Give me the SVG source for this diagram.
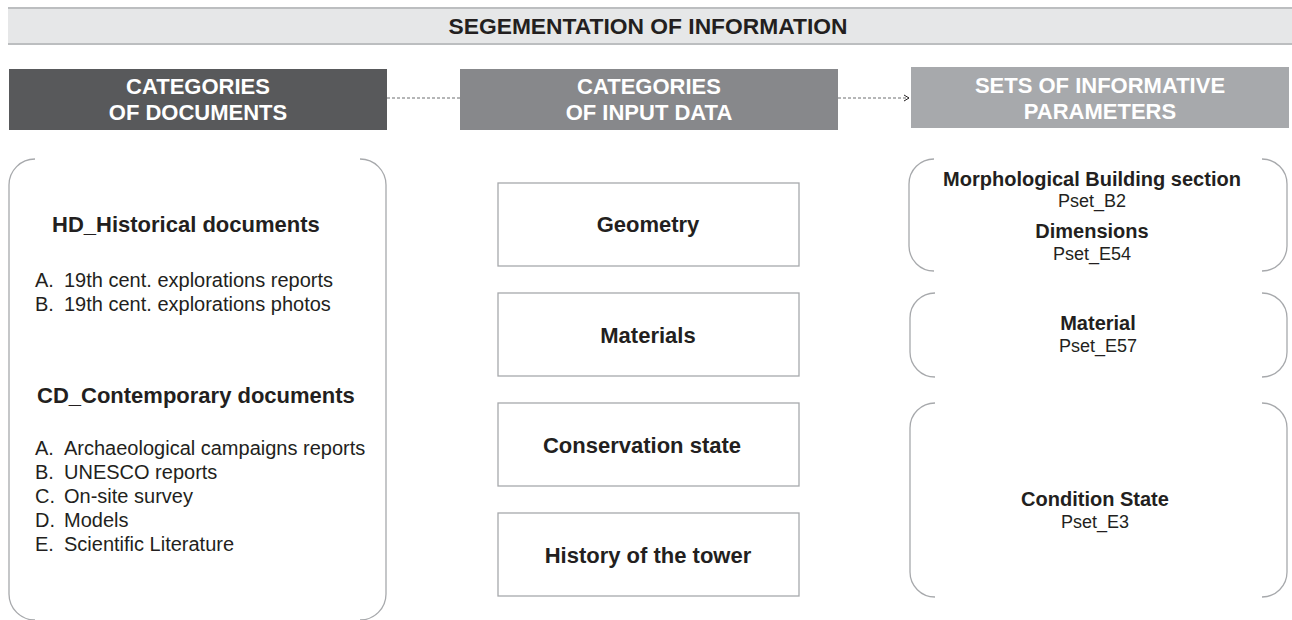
<svg xmlns="http://www.w3.org/2000/svg" width="1292" height="620" viewBox="0 0 1292 620">
  <style>
    text { font-family: "Liberation Sans", Arial, sans-serif; fill: #231f20; }
    .title { font-size: 22.8px; font-weight: bold; text-anchor: middle; }
    .hdr { font-size: 22px; font-weight: bold; fill: #ffffff; text-anchor: middle; }
    .bold { font-size: 22px; font-weight: bold; }
    .pname { font-size: 20px; font-weight: bold; text-anchor: middle; }
    .mid { text-anchor: middle; }
    .reg { font-size: 20px; }
    .pset { font-size: 18px; text-anchor: middle; }
    .bracket { fill: none; stroke: #a7a9ac; stroke-width: 1.3; }
    .cell { fill: #ffffff; stroke: #a7a9ac; stroke-width: 1.3; }
    .link { fill: none; stroke: #6d6e71; stroke-width: 1; stroke-dasharray: 3 2; }
  </style>
  <defs>
    <marker id="open-arrow" markerWidth="8" markerHeight="8" refX="6" refY="4" orient="auto" markerUnits="userSpaceOnUse">
      <path d="M1,1 L6,4 L1,7" fill="none" stroke="#231f20" stroke-width="1"/>
    </marker>
  </defs>

  <!-- title band -->
  <g id="title-band">
    <rect x="8" y="8" width="1284" height="36" fill="#e6e7e8"/>
    <line x1="8" y1="8" x2="1292" y2="8" stroke="#bcbec0" stroke-width="2"/>
    <line x1="8" y1="44" x2="1292" y2="44" stroke="#bcbec0" stroke-width="2"/>
    <text class="title" x="648" y="34">SEGEMENTATION OF INFORMATION</text>
  </g>

  <!-- column headers -->
  <g id="hdr-documents">
    <rect x="9" y="69" width="378" height="61" fill="#58595b"/>
    <text class="hdr" x="198" y="94">CATEGORIES</text>
    <text class="hdr" x="198" y="120">OF DOCUMENTS</text>
  </g>
  <g id="hdr-input">
    <rect x="460" y="69" width="378" height="61" fill="#87888b"/>
    <text class="hdr" x="649" y="94">CATEGORIES</text>
    <text class="hdr" x="649" y="120">OF INPUT DATA</text>
  </g>
  <g id="hdr-params">
    <rect x="911" y="67" width="378" height="61" fill="#a7a9ac"/>
    <text class="hdr" x="1100" y="93">SETS OF INFORMATIVE</text>
    <text class="hdr" x="1100" y="119">PARAMETERS</text>
  </g>

  <!-- connectors between headers -->
  <g id="connectors">
    <line class="link" x1="387" y1="98" x2="460" y2="98"/>
    <line class="link" x1="838" y1="98" x2="909" y2="98" marker-end="url(#open-arrow)"/>
  </g>

  <!-- documents panel -->
  <g id="documents">
    <path class="bracket" d="M35,159 A26,26 0 0 0 9,185 L9,594 A26,26 0 0 0 35,620"/>
    <path class="bracket" d="M360,159 A26,26 0 0 1 386,185 L386,594 A26,26 0 0 1 360,620"/>
    <text class="bold" x="52" y="232">HD_Historical documents</text>
    <text class="reg" y="287"><tspan x="35">A.</tspan><tspan x="64">19th cent. explorations reports</tspan></text>
    <text class="reg" y="311"><tspan x="35">B.</tspan><tspan x="64">19th cent. explorations photos</tspan></text>
    <text class="bold" x="37" y="403">CD_Contemporary documents</text>
    <text class="reg" y="455"><tspan x="35">A.</tspan><tspan x="64">Archaeological campaigns reports</tspan></text>
    <text class="reg" y="479"><tspan x="35">B.</tspan><tspan x="64">UNESCO reports</tspan></text>
    <text class="reg" y="503"><tspan x="35">C.</tspan><tspan x="64">On-site survey</tspan></text>
    <text class="reg" y="527"><tspan x="35">D.</tspan><tspan x="64">Models</tspan></text>
    <text class="reg" y="551"><tspan x="35">E.</tspan><tspan x="64">Scientific Literature</tspan></text>
  </g>

  <!-- input data cells -->
  <g id="geometry">
    <rect class="cell" x="498" y="183" width="301" height="83"/>
    <text class="bold mid" x="648" y="232">Geometry</text>
  </g>
  <g id="materials">
    <rect class="cell" x="498" y="293" width="301" height="83"/>
    <text class="bold mid" x="648" y="343">Materials</text>
  </g>
  <g id="conservation">
    <rect class="cell" x="498" y="403" width="301" height="83"/>
    <text class="bold mid" x="642" y="453">Conservation state</text>
  </g>
  <g id="history">
    <rect class="cell" x="498" y="513" width="301" height="83"/>
    <text class="bold mid" x="648" y="563">History of the tower</text>
  </g>

  <!-- parameter sets -->
  <g id="pset-morphology">
    <path class="bracket" d="M934,159 A25,25 0 0 0 909,184 L909,246 A25,25 0 0 0 934,271"/>
    <path class="bracket" d="M1262,159 A25,25 0 0 1 1287,184 L1287,246 A25,25 0 0 1 1262,271"/>
    <text class="pname" x="1092" y="186">Morphological Building section</text>
    <text class="pset" x="1092" y="207">Pset_B2</text>
    <text class="pname" x="1092" y="238">Dimensions</text>
    <text class="pset" x="1092" y="260">Pset_E54</text>
  </g>
  <g id="pset-material">
    <path class="bracket" d="M935,293 A25,25 0 0 0 910,318 L910,352 A25,25 0 0 0 935,377"/>
    <path class="bracket" d="M1262,293 A25,25 0 0 1 1287,318 L1287,352 A25,25 0 0 1 1262,377"/>
    <text class="pname" x="1098" y="330">Material</text>
    <text class="pset" x="1098" y="352">Pset_E57</text>
  </g>
  <g id="pset-condition">
    <path class="bracket" d="M935,403 A25,25 0 0 0 910,428 L910,572 A25,25 0 0 0 935,597"/>
    <path class="bracket" d="M1262,403 A25,25 0 0 1 1287,428 L1287,572 A25,25 0 0 1 1262,597"/>
    <text class="pname" x="1095" y="506">Condition State</text>
    <text class="pset" x="1095" y="528">Pset_E3</text>
  </g>
</svg>
